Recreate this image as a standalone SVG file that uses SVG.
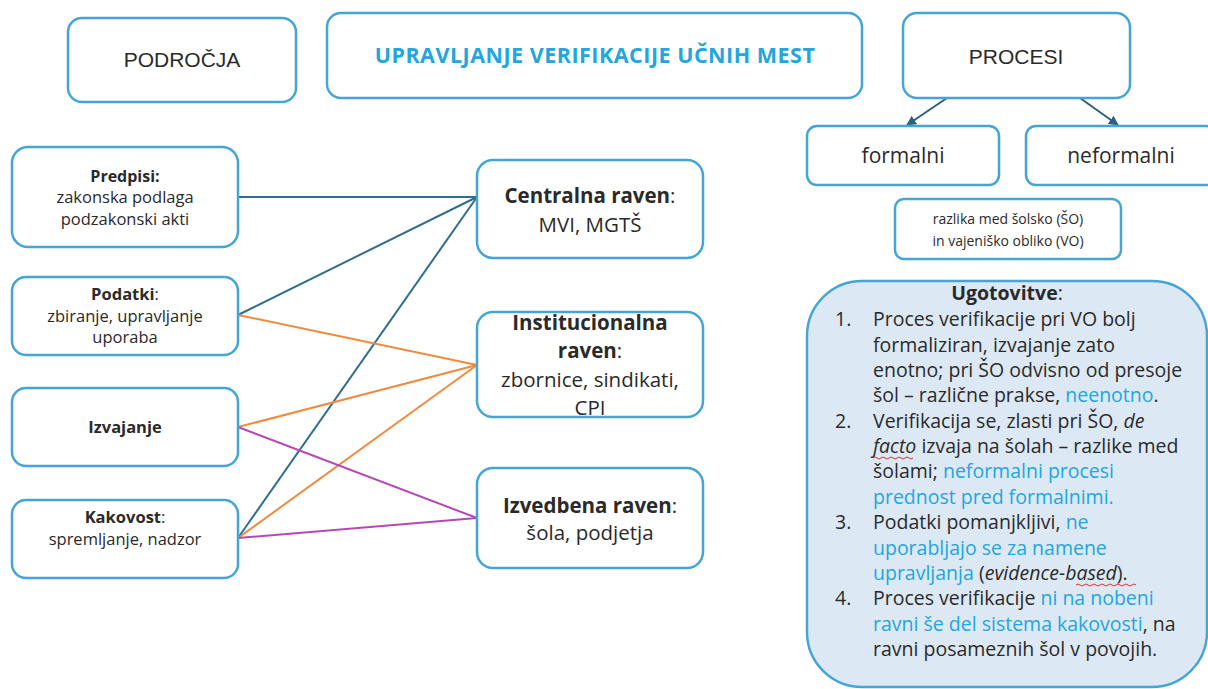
<svg xmlns="http://www.w3.org/2000/svg" width="1208" height="689" viewBox="0 0 1208 689">
<defs>
<style>
.box{fill:#fff;stroke:#45a5d5;stroke-width:2.5}
.t{font-family:"Open Sans","Noto Sans",sans-serif;fill:#2a2a2a}
.ar{font-family:"Liberation Sans",Arial,sans-serif;fill:#2a2a2a}
.b{font-weight:bold}
.n{font-weight:normal}
.blue{fill:#21a6e0}
.c{text-anchor:middle}
.teal{stroke:#2f6e8c;stroke-width:2;fill:none}
.org{stroke:#f08a3e;stroke-width:2;fill:none}
.pur{stroke:#b449b4;stroke-width:2;fill:none}
.arr{stroke:#2f5f7a;stroke-width:2;fill:none}
.wavy{stroke:#e03030;stroke-width:1;fill:none}
</style>
<marker id="ah" viewBox="0 0 10 10" refX="9" refY="5" markerWidth="5" markerHeight="5" orient="auto">
<path d="M0,0 L10,5 L0,10 z" fill="#2f5f7a"/>
</marker>
</defs>
<rect width="1208" height="689" fill="#fff"/>

<g id="connectors">
<line class="teal" x1="238" y1="197" x2="477" y2="197"/>
<line class="teal" x1="238" y1="315" x2="477" y2="197"/>
<line class="teal" x1="238" y1="538" x2="477" y2="197"/>
<line class="org" x1="238" y1="315" x2="477" y2="365"/>
<line class="org" x1="238" y1="427" x2="477" y2="365"/>
<line class="org" x1="238" y1="538" x2="477" y2="365"/>
<line class="pur" x1="238" y1="427" x2="477" y2="518"/>
<line class="pur" x1="238" y1="538" x2="477" y2="518"/>
<line class="arr" x1="947" y1="98" x2="907" y2="125" marker-end="url(#ah)"/>
<line class="arr" x1="1080" y1="98" x2="1118" y2="125" marker-end="url(#ah)"/>
</g>

<g id="podrocja">
<rect class="box" x="68" y="18" width="228" height="84" rx="14"/>
<text class="ar c" x="182" y="67" font-size="21">PODROČJA</text>
</g>

<g id="naslov">
<rect class="box" x="327" y="13" width="535" height="85" rx="14"/>
<text class="t b c blue" x="595" y="63" font-size="21.5" letter-spacing="0.5">UPRAVLJANJE VERIFIKACIJE UČNIH MEST</text>
</g>

<g id="procesi">
<rect class="box" x="903" y="13" width="227" height="85" rx="14"/>
<text class="ar c" x="1016" y="64" font-size="21">PROCESI</text>
</g>

<g id="formalni">
<rect class="box" x="807" y="126" width="192" height="59" rx="10"/>
<text class="t c" x="903" y="163" font-size="21">formalni</text>
</g>

<g id="neformalni">
<rect class="box" x="1026" y="126" width="190" height="59" rx="10"/>
<text class="t c" x="1121" y="163" font-size="21">neformalni</text>
</g>

<g id="razlika">
<rect class="box" x="895" y="199" width="226" height="60" rx="9"/>
<text class="t c" x="1008" y="224" font-size="14">razlika med šolsko (ŠO)</text>
<text class="t c" x="1008" y="246" font-size="14">in vajeniško obliko (VO)</text>
</g>

<g id="predpisi">
<rect class="box" x="12" y="147" width="226" height="100" rx="16"/>
<text class="t b c" x="125" y="182" font-size="16">Predpisi:</text>
<text class="t c" x="125" y="203" font-size="16.5">zakonska podlaga</text>
<text class="t c" x="125" y="225" font-size="16.5">podzakonski akti</text>
</g>

<g id="podatki">
<rect class="box" x="12" y="277" width="226" height="78" rx="14"/>
<text class="t c" x="125" y="300" font-size="16.5"><tspan class="b">Podatki</tspan>:</text>
<text class="t c" x="125" y="322" font-size="16.5">zbiranje, upravljanje</text>
<text class="t c" x="125" y="343" font-size="16.5">uporaba</text>
</g>

<g id="izvajanje">
<rect class="box" x="12" y="388" width="226" height="78" rx="14"/>
<text class="t b c" x="125" y="433" font-size="16.5">Izvajanje</text>
</g>

<g id="kakovost">
<rect class="box" x="12" y="500" width="226" height="78" rx="14"/>
<text class="t c" x="125" y="523" font-size="16.5"><tspan class="b">Kakovost</tspan>:</text>
<text class="t c" x="125" y="545" font-size="16.5">spremljanje, nadzor</text>
</g>

<g id="centralna">
<rect class="box" x="477" y="160" width="226" height="98" rx="16"/>
<text class="t c" x="590" y="203" font-size="20.5"><tspan class="b">Centralna raven</tspan>:</text>
<text class="t c" x="590" y="232" font-size="20.5">MVI, MGTŠ</text>
</g>

<g id="institucionalna">
<rect class="box" x="477" y="312" width="226" height="105" rx="16"/>
<text class="t b c" x="590" y="330" font-size="20.5">Institucionalna</text>
<text class="t c" x="590" y="358" font-size="20.5"><tspan class="b">raven</tspan>:</text>
<text class="t c" x="590" y="387" font-size="20.5">zbornice, sindikati,</text>
<text class="t c" x="590" y="415" font-size="20.5">CPI</text>
</g>

<g id="izvedbena">
<rect class="box" x="477" y="468" width="226" height="100" rx="16"/>
<text class="t c" x="590" y="513" font-size="20.5"><tspan class="b">Izvedbena raven</tspan>:</text>
<text class="t c" x="590" y="540" font-size="20.5">šola, podjetja</text>
</g>

<g id="ugotovitve">
<rect x="807" y="281" width="400" height="406" rx="55" fill="#dce9f5" stroke="#45a5d5" stroke-width="2.5"/>
<text class="t c" x="1007" y="300" font-size="19.5"><tspan class="b">Ugotovitve</tspan>:</text>
<g font-size="19.5">
<text class="t" x="835" y="326">1.</text>
<text class="t" x="873" y="326">Proces verifikacije pri VO bolj</text>
<text class="t" x="873" y="351.5">formaliziran, izvajanje zato</text>
<text class="t" x="873" y="377">enotno; pri ŠO odvisno od presoje</text>
<text class="t" x="873" y="402">šol – različne prakse, <tspan class="blue">neenotno</tspan>.</text>
<text class="t" x="835" y="428">2.</text>
<text class="t" x="873" y="428">Verifikacija se, zlasti pri ŠO, <tspan font-style="italic">de</tspan></text>
<text class="t" x="873" y="453"><tspan font-style="italic">facto</tspan> izvaja na šolah – razlike med</text>
<text class="t" x="873" y="478">šolami; <tspan class="blue">neformalni procesi</tspan></text>
<text class="t blue" x="873" y="504">prednost pred formalnimi.</text>
<text class="t" x="835" y="529">3.</text>
<text class="t" x="873" y="529">Podatki pomanjkljivi, <tspan class="blue">ne</tspan></text>
<text class="t blue" x="873" y="555">uporabljajo se za namene</text>
<text class="t" x="873" y="580"><tspan class="blue">upravljanja</tspan> (<tspan font-style="italic">evidence-based</tspan>).</text>
<text class="t" x="835" y="605">4.</text>
<text class="t" x="873" y="605">Proces verifikacije <tspan class="blue">ni na nobeni</tspan></text>
<text class="t" x="873" y="631"><tspan class="blue">ravni še del sistema kakovosti</tspan>, na</text>
<text class="t" x="873" y="656">ravni posameznih šol v povojih.</text>
</g>
<path class="wavy" d="M873,458 q2,-2 4,0 t4,0 t4,0 t4,0 t4,0 t4,0 t4,0 t4,0 t4,0 t4,0"/>
<path class="wavy" d="M1076,585 q2,-2 4,0 t4,0 t4,0 t4,0 t4,0 t4,0 t4,0 t4,0 t4,0 t4,0 t4,0 t4,0 t4,0 t4,0 t4,0"/>
</g>
</svg>
